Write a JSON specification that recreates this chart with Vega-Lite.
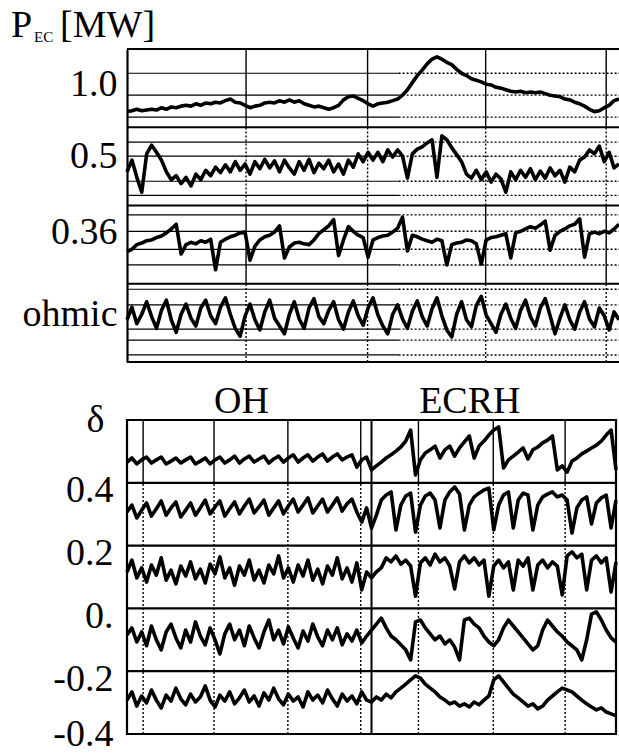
{
  "$schema": "https://vega.github.io/schema/vega-lite/v6.json",
  "autosize": {"type": "pad"},
  "padding": {"left": 10, "top": 7, "right": 0, "bottom": 0},
  "spacing": 16,
  "config": {
    "view": {"stroke": null}
  },
  "datasets": {
    "topLevels": [{"y": 3.69}, {"y": 3.41}, {"y": 3.13}, {"y": 2.81}, {"y": 2.63}, {"y": 2.31}, {"y": 2.13}, {"y": 1.88}, {"y": 1.67}, {"y": 1.44}, {"y": 1.24}, {"y": 0.93}, {"y": 0.73}, {"y": 0.42}, {"y": 0.28}, {"y": 0.09}],
    "topSep": [{"y": 0}, {"y": 1}, {"y": 2}, {"y": 3}, {"y": 4}],
    "topDiv": [{"x": 24.2}, {"x": 48.9}, {"x": 72.9}, {"x": 97.4}],
    "heading": [{"part": "P", "x": -23.6, "y": 4.153, "big": true}, {"part": "EC", "x": -18.9, "y": 4.089, "big": false}, {"part": "[MW]", "x": -13.6, "y": 4.153, "big": true}],
    "botSep": [{"y": 0.4}, {"y": 0.2}, {"y": 0}, {"y": -0.2}],
    "botDiv": [{"x": 3.3}, {"x": 17.8}, {"x": 32.9}, {"x": 47.8}, {"x": 59.6}, {"x": 74.9}, {"x": 89.6}],
    "top": [
      {"s":"1.0","t":0,"v":3.20},{"s":"1.0","t":1,"v":3.21},{"s":"1.0","t":2,"v":3.23},{"s":"1.0","t":3,"v":3.21},{"s":"1.0","t":4,"v":3.22},{"s":"1.0","t":5,"v":3.23},{"s":"1.0","t":6,"v":3.22},{"s":"1.0","t":7,"v":3.25},{"s":"1.0","t":8,"v":3.23},{"s":"1.0","t":9,"v":3.26},
      {"s":"1.0","t":10,"v":3.25},{"s":"1.0","t":11,"v":3.27},{"s":"1.0","t":12,"v":3.28},{"s":"1.0","t":13,"v":3.27},{"s":"1.0","t":14,"v":3.30},{"s":"1.0","t":15,"v":3.28},{"s":"1.0","t":16,"v":3.31},{"s":"1.0","t":17,"v":3.30},{"s":"1.0","t":18,"v":3.32},{"s":"1.0","t":19,"v":3.31},
      {"s":"1.0","t":20,"v":3.34},{"s":"1.0","t":21,"v":3.36},{"s":"1.0","t":22,"v":3.32},{"s":"1.0","t":23,"v":3.31},{"s":"1.0","t":24,"v":3.28},{"s":"1.0","t":25,"v":3.25},{"s":"1.0","t":26,"v":3.27},{"s":"1.0","t":27,"v":3.28},{"s":"1.0","t":28,"v":3.31},{"s":"1.0","t":29,"v":3.32},
      {"s":"1.0","t":30,"v":3.31},{"s":"1.0","t":31,"v":3.34},{"s":"1.0","t":32,"v":3.32},{"s":"1.0","t":33,"v":3.35},{"s":"1.0","t":34,"v":3.32},{"s":"1.0","t":35,"v":3.34},{"s":"1.0","t":36,"v":3.30},{"s":"1.0","t":37,"v":3.28},{"s":"1.0","t":38,"v":3.26},{"s":"1.0","t":39,"v":3.27},
      {"s":"1.0","t":40,"v":3.25},{"s":"1.0","t":41,"v":3.23},{"s":"1.0","t":42,"v":3.25},{"s":"1.0","t":43,"v":3.28},{"s":"1.0","t":44,"v":3.35},{"s":"1.0","t":45,"v":3.39},{"s":"1.0","t":46,"v":3.40},{"s":"1.0","t":47,"v":3.37},{"s":"1.0","t":48,"v":3.34},{"s":"1.0","t":49,"v":3.30},
      {"s":"1.0","t":50,"v":3.27},{"s":"1.0","t":51,"v":3.30},{"s":"1.0","t":52,"v":3.31},{"s":"1.0","t":53,"v":3.32},{"s":"1.0","t":54,"v":3.34},{"s":"1.0","t":55,"v":3.36},{"s":"1.0","t":56,"v":3.41},{"s":"1.0","t":57,"v":3.48},{"s":"1.0","t":58,"v":3.57},{"s":"1.0","t":59,"v":3.66},
      {"s":"1.0","t":60,"v":3.73},{"s":"1.0","t":61,"v":3.81},{"s":"1.0","t":62,"v":3.87},{"s":"1.0","t":63,"v":3.90},{"s":"1.0","t":64,"v":3.87},{"s":"1.0","t":65,"v":3.83},{"s":"1.0","t":66,"v":3.80},{"s":"1.0","t":67,"v":3.74},{"s":"1.0","t":68,"v":3.69},{"s":"1.0","t":69,"v":3.66},
      {"s":"1.0","t":70,"v":3.62},{"s":"1.0","t":71,"v":3.60},{"s":"1.0","t":72,"v":3.58},{"s":"1.0","t":73,"v":3.55},{"s":"1.0","t":74,"v":3.54},{"s":"1.0","t":75,"v":3.51},{"s":"1.0","t":76,"v":3.50},{"s":"1.0","t":77,"v":3.48},{"s":"1.0","t":78,"v":3.46},{"s":"1.0","t":79,"v":3.45},
      {"s":"1.0","t":80,"v":3.46},{"s":"1.0","t":81,"v":3.44},{"s":"1.0","t":82,"v":3.45},{"s":"1.0","t":83,"v":3.44},{"s":"1.0","t":84,"v":3.45},{"s":"1.0","t":85,"v":3.43},{"s":"1.0","t":86,"v":3.41},{"s":"1.0","t":87,"v":3.40},{"s":"1.0","t":88,"v":3.39},{"s":"1.0","t":89,"v":3.36},
      {"s":"1.0","t":90,"v":3.35},{"s":"1.0","t":91,"v":3.32},{"s":"1.0","t":92,"v":3.30},{"s":"1.0","t":93,"v":3.27},{"s":"1.0","t":94,"v":3.23},{"s":"1.0","t":95,"v":3.20},{"s":"1.0","t":96,"v":3.21},{"s":"1.0","t":97,"v":3.25},{"s":"1.0","t":98,"v":3.28},{"s":"1.0","t":99,"v":3.34},{"s":"1.0","t":100,"v":3.36},

      {"s":"0.5","t":0,"v":2.43},{"s":"0.5","t":1,"v":2.58},{"s":"0.5","t":2,"v":2.36},{"s":"0.5","t":3,"v":2.17},{"s":"0.5","t":4,"v":2.66},{"s":"0.5","t":5,"v":2.77},{"s":"0.5","t":6,"v":2.68},{"s":"0.5","t":7,"v":2.58},{"s":"0.5","t":8,"v":2.43},{"s":"0.5","t":9,"v":2.33},
      {"s":"0.5","t":10,"v":2.38},{"s":"0.5","t":11,"v":2.28},{"s":"0.5","t":12,"v":2.36},{"s":"0.5","t":13,"v":2.25},{"s":"0.5","t":14,"v":2.40},{"s":"0.5","t":15,"v":2.33},{"s":"0.5","t":16,"v":2.45},{"s":"0.5","t":17,"v":2.38},{"s":"0.5","t":18,"v":2.49},{"s":"0.5","t":19,"v":2.42},
      {"s":"0.5","t":20,"v":2.52},{"s":"0.5","t":21,"v":2.43},{"s":"0.5","t":22,"v":2.56},{"s":"0.5","t":23,"v":2.45},{"s":"0.5","t":24,"v":2.53},{"s":"0.5","t":25,"v":2.40},{"s":"0.5","t":26,"v":2.56},{"s":"0.5","t":27,"v":2.47},{"s":"0.5","t":28,"v":2.59},{"s":"0.5","t":29,"v":2.48},
      {"s":"0.5","t":30,"v":2.57},{"s":"0.5","t":31,"v":2.43},{"s":"0.5","t":32,"v":2.58},{"s":"0.5","t":33,"v":2.48},{"s":"0.5","t":34,"v":2.40},{"s":"0.5","t":35,"v":2.56},{"s":"0.5","t":36,"v":2.45},{"s":"0.5","t":37,"v":2.59},{"s":"0.5","t":38,"v":2.42},{"s":"0.5","t":39,"v":2.54},
      {"s":"0.5","t":40,"v":2.47},{"s":"0.5","t":41,"v":2.58},{"s":"0.5","t":42,"v":2.43},{"s":"0.5","t":43,"v":2.53},{"s":"0.5","t":44,"v":2.40},{"s":"0.5","t":45,"v":2.58},{"s":"0.5","t":46,"v":2.49},{"s":"0.5","t":47,"v":2.66},{"s":"0.5","t":48,"v":2.56},{"s":"0.5","t":49,"v":2.68},
      {"s":"0.5","t":50,"v":2.58},{"s":"0.5","t":51,"v":2.68},{"s":"0.5","t":52,"v":2.56},{"s":"0.5","t":53,"v":2.71},{"s":"0.5","t":54,"v":2.62},{"s":"0.5","t":55,"v":2.71},{"s":"0.5","t":56,"v":2.63},{"s":"0.5","t":57,"v":2.35},{"s":"0.5","t":58,"v":2.66},{"s":"0.5","t":59,"v":2.72},
      {"s":"0.5","t":60,"v":2.75},{"s":"0.5","t":61,"v":2.80},{"s":"0.5","t":62,"v":2.84},{"s":"0.5","t":63,"v":2.36},{"s":"0.5","t":64,"v":2.89},{"s":"0.5","t":65,"v":2.84},{"s":"0.5","t":66,"v":2.74},{"s":"0.5","t":67,"v":2.65},{"s":"0.5","t":68,"v":2.56},{"s":"0.5","t":69,"v":2.40},
      {"s":"0.5","t":70,"v":2.35},{"s":"0.5","t":71,"v":2.45},{"s":"0.5","t":72,"v":2.33},{"s":"0.5","t":73,"v":2.43},{"s":"0.5","t":74,"v":2.30},{"s":"0.5","t":75,"v":2.40},{"s":"0.5","t":76,"v":2.34},{"s":"0.5","t":77,"v":2.17},{"s":"0.5","t":78,"v":2.43},{"s":"0.5","t":79,"v":2.33},
      {"s":"0.5","t":80,"v":2.45},{"s":"0.5","t":81,"v":2.36},{"s":"0.5","t":82,"v":2.47},{"s":"0.5","t":83,"v":2.33},{"s":"0.5","t":84,"v":2.44},{"s":"0.5","t":85,"v":2.35},{"s":"0.5","t":86,"v":2.48},{"s":"0.5","t":87,"v":2.38},{"s":"0.5","t":88,"v":2.45},{"s":"0.5","t":89,"v":2.30},
      {"s":"0.5","t":90,"v":2.49},{"s":"0.5","t":91,"v":2.43},{"s":"0.5","t":92,"v":2.58},{"s":"0.5","t":93,"v":2.62},{"s":"0.5","t":94,"v":2.71},{"s":"0.5","t":95,"v":2.66},{"s":"0.5","t":96,"v":2.76},{"s":"0.5","t":97,"v":2.56},{"s":"0.5","t":98,"v":2.68},{"s":"0.5","t":99,"v":2.48},{"s":"0.5","t":100,"v":2.53},

      {"s":"0.36","t":0,"v":1.41},{"s":"0.36","t":1,"v":1.44},{"s":"0.36","t":2,"v":1.50},{"s":"0.36","t":3,"v":1.52},{"s":"0.36","t":4,"v":1.55},{"s":"0.36","t":5,"v":1.56},{"s":"0.36","t":6,"v":1.59},{"s":"0.36","t":7,"v":1.61},{"s":"0.36","t":8,"v":1.65},{"s":"0.36","t":9,"v":1.70},
      {"s":"0.36","t":10,"v":1.76},{"s":"0.36","t":11,"v":1.38},{"s":"0.36","t":12,"v":1.50},{"s":"0.36","t":13,"v":1.53},{"s":"0.36","t":14,"v":1.51},{"s":"0.36","t":15,"v":1.55},{"s":"0.36","t":16,"v":1.53},{"s":"0.36","t":17,"v":1.57},{"s":"0.36","t":18,"v":1.18},{"s":"0.36","t":19,"v":1.53},
      {"s":"0.36","t":20,"v":1.57},{"s":"0.36","t":21,"v":1.60},{"s":"0.36","t":22,"v":1.62},{"s":"0.36","t":23,"v":1.65},{"s":"0.36","t":24,"v":1.66},{"s":"0.36","t":25,"v":1.30},{"s":"0.36","t":26,"v":1.48},{"s":"0.36","t":27,"v":1.56},{"s":"0.36","t":28,"v":1.60},{"s":"0.36","t":29,"v":1.62},
      {"s":"0.36","t":30,"v":1.66},{"s":"0.36","t":31,"v":1.74},{"s":"0.36","t":32,"v":1.33},{"s":"0.36","t":33,"v":1.47},{"s":"0.36","t":34,"v":1.52},{"s":"0.36","t":35,"v":1.53},{"s":"0.36","t":36,"v":1.51},{"s":"0.36","t":37,"v":1.50},{"s":"0.36","t":38,"v":1.56},{"s":"0.36","t":39,"v":1.64},
      {"s":"0.36","t":40,"v":1.69},{"s":"0.36","t":41,"v":1.74},{"s":"0.36","t":42,"v":1.82},{"s":"0.36","t":43,"v":1.36},{"s":"0.36","t":44,"v":1.56},{"s":"0.36","t":45,"v":1.73},{"s":"0.36","t":46,"v":1.67},{"s":"0.36","t":47,"v":1.62},{"s":"0.36","t":48,"v":1.59},{"s":"0.36","t":49,"v":1.34},
      {"s":"0.36","t":50,"v":1.56},{"s":"0.36","t":51,"v":1.59},{"s":"0.36","t":52,"v":1.61},{"s":"0.36","t":53,"v":1.62},{"s":"0.36","t":54,"v":1.66},{"s":"0.36","t":55,"v":1.71},{"s":"0.36","t":56,"v":1.85},{"s":"0.36","t":57,"v":1.42},{"s":"0.36","t":58,"v":1.62},{"s":"0.36","t":59,"v":1.60},
      {"s":"0.36","t":60,"v":1.57},{"s":"0.36","t":61,"v":1.55},{"s":"0.36","t":62,"v":1.53},{"s":"0.36","t":63,"v":1.57},{"s":"0.36","t":64,"v":1.55},{"s":"0.36","t":65,"v":1.24},{"s":"0.36","t":66,"v":1.50},{"s":"0.36","t":67,"v":1.52},{"s":"0.36","t":68,"v":1.53},{"s":"0.36","t":69,"v":1.56},
      {"s":"0.36","t":70,"v":1.55},{"s":"0.36","t":71,"v":1.51},{"s":"0.36","t":72,"v":1.25},{"s":"0.36","t":73,"v":1.56},{"s":"0.36","t":74,"v":1.59},{"s":"0.36","t":75,"v":1.60},{"s":"0.36","t":76,"v":1.62},{"s":"0.36","t":77,"v":1.64},{"s":"0.36","t":78,"v":1.33},{"s":"0.36","t":79,"v":1.65},
      {"s":"0.36","t":80,"v":1.67},{"s":"0.36","t":81,"v":1.70},{"s":"0.36","t":82,"v":1.73},{"s":"0.36","t":83,"v":1.71},{"s":"0.36","t":84,"v":1.75},{"s":"0.36","t":85,"v":1.80},{"s":"0.36","t":86,"v":1.43},{"s":"0.36","t":87,"v":1.62},{"s":"0.36","t":88,"v":1.67},{"s":"0.36","t":89,"v":1.70},
      {"s":"0.36","t":90,"v":1.74},{"s":"0.36","t":91,"v":1.76},{"s":"0.36","t":92,"v":1.83},{"s":"0.36","t":93,"v":1.34},{"s":"0.36","t":94,"v":1.64},{"s":"0.36","t":95,"v":1.66},{"s":"0.36","t":96,"v":1.64},{"s":"0.36","t":97,"v":1.67},{"s":"0.36","t":98,"v":1.65},{"s":"0.36","t":99,"v":1.70},{"s":"0.36","t":100,"v":1.76},

      {"s":"ohmic","t":0,"v":0.54},{"s":"ohmic","t":1,"v":0.70},{"s":"ohmic","t":2,"v":0.49},{"s":"ohmic","t":3,"v":0.61},{"s":"ohmic","t":4,"v":0.77},{"s":"ohmic","t":5,"v":0.58},{"s":"ohmic","t":6,"v":0.43},{"s":"ohmic","t":7,"v":0.66},{"s":"ohmic","t":8,"v":0.79},{"s":"ohmic","t":9,"v":0.54},
      {"s":"ohmic","t":10,"v":0.38},{"s":"ohmic","t":11,"v":0.61},{"s":"ohmic","t":12,"v":0.74},{"s":"ohmic","t":13,"v":0.56},{"s":"ohmic","t":14,"v":0.46},{"s":"ohmic","t":15,"v":0.69},{"s":"ohmic","t":16,"v":0.79},{"s":"ohmic","t":17,"v":0.59},{"s":"ohmic","t":18,"v":0.49},{"s":"ohmic","t":19,"v":0.70},
      {"s":"ohmic","t":20,"v":0.82},{"s":"ohmic","t":21,"v":0.61},{"s":"ohmic","t":22,"v":0.43},{"s":"ohmic","t":23,"v":0.33},{"s":"ohmic","t":24,"v":0.59},{"s":"ohmic","t":25,"v":0.74},{"s":"ohmic","t":26,"v":0.54},{"s":"ohmic","t":27,"v":0.41},{"s":"ohmic","t":28,"v":0.64},{"s":"ohmic","t":29,"v":0.79},
      {"s":"ohmic","t":30,"v":0.56},{"s":"ohmic","t":31,"v":0.46},{"s":"ohmic","t":32,"v":0.36},{"s":"ohmic","t":33,"v":0.61},{"s":"ohmic","t":34,"v":0.77},{"s":"ohmic","t":35,"v":0.55},{"s":"ohmic","t":36,"v":0.43},{"s":"ohmic","t":37,"v":0.69},{"s":"ohmic","t":38,"v":0.81},{"s":"ohmic","t":39,"v":0.58},
      {"s":"ohmic","t":40,"v":0.49},{"s":"ohmic","t":41,"v":0.66},{"s":"ohmic","t":42,"v":0.77},{"s":"ohmic","t":43,"v":0.54},{"s":"ohmic","t":44,"v":0.42},{"s":"ohmic","t":45,"v":0.64},{"s":"ohmic","t":46,"v":0.78},{"s":"ohmic","t":47,"v":0.59},{"s":"ohmic","t":48,"v":0.47},{"s":"ohmic","t":49,"v":0.69},
      {"s":"ohmic","t":50,"v":0.82},{"s":"ohmic","t":51,"v":0.60},{"s":"ohmic","t":52,"v":0.46},{"s":"ohmic","t":53,"v":0.36},{"s":"ohmic","t":54,"v":0.61},{"s":"ohmic","t":55,"v":0.73},{"s":"ohmic","t":56,"v":0.55},{"s":"ohmic","t":57,"v":0.43},{"s":"ohmic","t":58,"v":0.65},{"s":"ohmic","t":59,"v":0.78},
      {"s":"ohmic","t":60,"v":0.58},{"s":"ohmic","t":61,"v":0.46},{"s":"ohmic","t":62,"v":0.68},{"s":"ohmic","t":63,"v":0.82},{"s":"ohmic","t":64,"v":0.59},{"s":"ohmic","t":65,"v":0.41},{"s":"ohmic","t":66,"v":0.32},{"s":"ohmic","t":67,"v":0.61},{"s":"ohmic","t":68,"v":0.77},{"s":"ohmic","t":69,"v":0.54},
      {"s":"ohmic","t":70,"v":0.45},{"s":"ohmic","t":71,"v":0.72},{"s":"ohmic","t":72,"v":0.84},{"s":"ohmic","t":73,"v":0.60},{"s":"ohmic","t":74,"v":0.49},{"s":"ohmic","t":75,"v":0.38},{"s":"ohmic","t":76,"v":0.61},{"s":"ohmic","t":77,"v":0.74},{"s":"ohmic","t":78,"v":0.56},{"s":"ohmic","t":79,"v":0.43},
      {"s":"ohmic","t":80,"v":0.66},{"s":"ohmic","t":81,"v":0.79},{"s":"ohmic","t":82,"v":0.58},{"s":"ohmic","t":83,"v":0.46},{"s":"ohmic","t":84,"v":0.69},{"s":"ohmic","t":85,"v":0.81},{"s":"ohmic","t":86,"v":0.59},{"s":"ohmic","t":87,"v":0.36},{"s":"ohmic","t":88,"v":0.56},{"s":"ohmic","t":89,"v":0.73},
      {"s":"ohmic","t":90,"v":0.54},{"s":"ohmic","t":91,"v":0.42},{"s":"ohmic","t":92,"v":0.64},{"s":"ohmic","t":93,"v":0.77},{"s":"ohmic","t":94,"v":0.55},{"s":"ohmic","t":95,"v":0.45},{"s":"ohmic","t":96,"v":0.69},{"s":"ohmic","t":97,"v":0.59},{"s":"ohmic","t":98,"v":0.41},{"s":"ohmic","t":99,"v":0.64},{"s":"ohmic","t":100,"v":0.54}
    ],
    "bottom": [
      {"s":"c1","t":0,"v":0.466},{"s":"c1","t":1,"v":0.479},{"s":"c1","t":2,"v":0.460},{"s":"c1","t":3,"v":0.473},{"s":"c1","t":4,"v":0.482},{"s":"c1","t":5,"v":0.463},{"s":"c1","t":6,"v":0.473},{"s":"c1","t":7,"v":0.482},{"s":"c1","t":8,"v":0.460},{"s":"c1","t":9,"v":0.469},
      {"s":"c1","t":10,"v":0.479},{"s":"c1","t":11,"v":0.463},{"s":"c1","t":12,"v":0.473},{"s":"c1","t":13,"v":0.482},{"s":"c1","t":14,"v":0.460},{"s":"c1","t":15,"v":0.469},{"s":"c1","t":16,"v":0.479},{"s":"c1","t":17,"v":0.460},{"s":"c1","t":18,"v":0.473},{"s":"c1","t":19,"v":0.482},
      {"s":"c1","t":20,"v":0.463},{"s":"c1","t":21,"v":0.473},{"s":"c1","t":22,"v":0.485},{"s":"c1","t":23,"v":0.463},{"s":"c1","t":24,"v":0.476},{"s":"c1","t":25,"v":0.485},{"s":"c1","t":26,"v":0.466},{"s":"c1","t":27,"v":0.476},{"s":"c1","t":28,"v":0.485},{"s":"c1","t":29,"v":0.463},
      {"s":"c1","t":30,"v":0.476},{"s":"c1","t":31,"v":0.485},{"s":"c1","t":32,"v":0.466},{"s":"c1","t":33,"v":0.479},{"s":"c1","t":34,"v":0.489},{"s":"c1","t":35,"v":0.466},{"s":"c1","t":36,"v":0.479},{"s":"c1","t":37,"v":0.489},{"s":"c1","t":38,"v":0.469},{"s":"c1","t":39,"v":0.482},
      {"s":"c1","t":40,"v":0.492},{"s":"c1","t":41,"v":0.469},{"s":"c1","t":42,"v":0.482},{"s":"c1","t":43,"v":0.492},{"s":"c1","t":44,"v":0.473},{"s":"c1","t":45,"v":0.482},{"s":"c1","t":46,"v":0.489},{"s":"c1","t":47,"v":0.450},{"s":"c1","t":48,"v":0.473},{"s":"c1","t":49,"v":0.482},
      {"s":"c1","t":50,"v":0.441},{"s":"c1","t":51,"v":0.454},{"s":"c1","t":52,"v":0.466},{"s":"c1","t":53,"v":0.479},{"s":"c1","t":54,"v":0.489},{"s":"c1","t":55,"v":0.501},{"s":"c1","t":56,"v":0.514},{"s":"c1","t":57,"v":0.533},{"s":"c1","t":58,"v":0.568},{"s":"c1","t":59,"v":0.425},
      {"s":"c1","t":60,"v":0.473},{"s":"c1","t":61,"v":0.495},{"s":"c1","t":62,"v":0.505},{"s":"c1","t":63,"v":0.517},{"s":"c1","t":64,"v":0.479},{"s":"c1","t":65,"v":0.505},{"s":"c1","t":66,"v":0.517},{"s":"c1","t":67,"v":0.485},{"s":"c1","t":68,"v":0.511},{"s":"c1","t":69,"v":0.530},
      {"s":"c1","t":70,"v":0.549},{"s":"c1","t":71,"v":0.479},{"s":"c1","t":72,"v":0.517},{"s":"c1","t":73,"v":0.533},{"s":"c1","t":74,"v":0.552},{"s":"c1","t":75,"v":0.568},{"s":"c1","t":76,"v":0.578},{"s":"c1","t":77,"v":0.447},{"s":"c1","t":78,"v":0.473},{"s":"c1","t":79,"v":0.485},
      {"s":"c1","t":80,"v":0.498},{"s":"c1","t":81,"v":0.511},{"s":"c1","t":82,"v":0.476},{"s":"c1","t":83,"v":0.505},{"s":"c1","t":84,"v":0.514},{"s":"c1","t":85,"v":0.527},{"s":"c1","t":86,"v":0.536},{"s":"c1","t":87,"v":0.549},{"s":"c1","t":88,"v":0.441},{"s":"c1","t":89,"v":0.454},
      {"s":"c1","t":90,"v":0.434},{"s":"c1","t":91,"v":0.469},{"s":"c1","t":92,"v":0.479},{"s":"c1","t":93,"v":0.492},{"s":"c1","t":94,"v":0.501},{"s":"c1","t":95,"v":0.511},{"s":"c1","t":96,"v":0.520},{"s":"c1","t":97,"v":0.533},{"s":"c1","t":98,"v":0.552},{"s":"c1","t":99,"v":0.568},{"s":"c1","t":100,"v":0.441},

      {"s":"c2","t":0,"v":0.307},{"s":"c2","t":1,"v":0.329},{"s":"c2","t":2,"v":0.288},{"s":"c2","t":3,"v":0.313},{"s":"c2","t":4,"v":0.336},{"s":"c2","t":5,"v":0.294},{"s":"c2","t":6,"v":0.317},{"s":"c2","t":7,"v":0.342},{"s":"c2","t":8,"v":0.297},{"s":"c2","t":9,"v":0.320},
      {"s":"c2","t":10,"v":0.339},{"s":"c2","t":11,"v":0.291},{"s":"c2","t":12,"v":0.313},{"s":"c2","t":13,"v":0.336},{"s":"c2","t":14,"v":0.297},{"s":"c2","t":15,"v":0.320},{"s":"c2","t":16,"v":0.345},{"s":"c2","t":17,"v":0.301},{"s":"c2","t":18,"v":0.323},{"s":"c2","t":19,"v":0.342},
      {"s":"c2","t":20,"v":0.294},{"s":"c2","t":21,"v":0.317},{"s":"c2","t":22,"v":0.339},{"s":"c2","t":23,"v":0.301},{"s":"c2","t":24,"v":0.326},{"s":"c2","t":25,"v":0.348},{"s":"c2","t":26,"v":0.304},{"s":"c2","t":27,"v":0.323},{"s":"c2","t":28,"v":0.345},{"s":"c2","t":29,"v":0.297},
      {"s":"c2","t":30,"v":0.320},{"s":"c2","t":31,"v":0.342},{"s":"c2","t":32,"v":0.301},{"s":"c2","t":33,"v":0.326},{"s":"c2","t":34,"v":0.348},{"s":"c2","t":35,"v":0.307},{"s":"c2","t":36,"v":0.329},{"s":"c2","t":37,"v":0.352},{"s":"c2","t":38,"v":0.304},{"s":"c2","t":39,"v":0.326},
      {"s":"c2","t":40,"v":0.348},{"s":"c2","t":41,"v":0.307},{"s":"c2","t":42,"v":0.329},{"s":"c2","t":43,"v":0.352},{"s":"c2","t":44,"v":0.310},{"s":"c2","t":45,"v":0.333},{"s":"c2","t":46,"v":0.348},{"s":"c2","t":47,"v":0.307},{"s":"c2","t":48,"v":0.275},{"s":"c2","t":49,"v":0.320},
      {"s":"c2","t":50,"v":0.256},{"s":"c2","t":51,"v":0.297},{"s":"c2","t":52,"v":0.345},{"s":"c2","t":53,"v":0.361},{"s":"c2","t":54,"v":0.371},{"s":"c2","t":55,"v":0.250},{"s":"c2","t":56,"v":0.329},{"s":"c2","t":57,"v":0.358},{"s":"c2","t":58,"v":0.367},{"s":"c2","t":59,"v":0.243},
      {"s":"c2","t":60,"v":0.329},{"s":"c2","t":61,"v":0.358},{"s":"c2","t":62,"v":0.367},{"s":"c2","t":63,"v":0.345},{"s":"c2","t":64,"v":0.256},{"s":"c2","t":65,"v":0.345},{"s":"c2","t":66,"v":0.371},{"s":"c2","t":67,"v":0.387},{"s":"c2","t":68,"v":0.364},{"s":"c2","t":69,"v":0.250},
      {"s":"c2","t":70,"v":0.329},{"s":"c2","t":71,"v":0.355},{"s":"c2","t":72,"v":0.367},{"s":"c2","t":73,"v":0.377},{"s":"c2","t":74,"v":0.383},{"s":"c2","t":75,"v":0.250},{"s":"c2","t":76,"v":0.329},{"s":"c2","t":77,"v":0.361},{"s":"c2","t":78,"v":0.371},{"s":"c2","t":79,"v":0.256},
      {"s":"c2","t":80,"v":0.345},{"s":"c2","t":81,"v":0.367},{"s":"c2","t":82,"v":0.361},{"s":"c2","t":83,"v":0.250},{"s":"c2","t":84,"v":0.329},{"s":"c2","t":85,"v":0.355},{"s":"c2","t":86,"v":0.364},{"s":"c2","t":87,"v":0.371},{"s":"c2","t":88,"v":0.355},{"s":"c2","t":89,"v":0.361},
      {"s":"c2","t":90,"v":0.345},{"s":"c2","t":91,"v":0.240},{"s":"c2","t":92,"v":0.320},{"s":"c2","t":93,"v":0.345},{"s":"c2","t":94,"v":0.355},{"s":"c2","t":95,"v":0.269},{"s":"c2","t":96,"v":0.336},{"s":"c2","t":97,"v":0.352},{"s":"c2","t":98,"v":0.361},{"s":"c2","t":99,"v":0.256},{"s":"c2","t":100,"v":0.345},

      {"s":"c3","t":0,"v":0.116},{"s":"c3","t":1,"v":0.154},{"s":"c3","t":2,"v":0.097},{"s":"c3","t":3,"v":0.129},{"s":"c3","t":4,"v":0.084},{"s":"c3","t":5,"v":0.138},{"s":"c3","t":6,"v":0.106},{"s":"c3","t":7,"v":0.161},{"s":"c3","t":8,"v":0.090},{"s":"c3","t":9,"v":0.122},
      {"s":"c3","t":10,"v":0.078},{"s":"c3","t":11,"v":0.135},{"s":"c3","t":12,"v":0.103},{"s":"c3","t":13,"v":0.148},{"s":"c3","t":14,"v":0.094},{"s":"c3","t":15,"v":0.125},{"s":"c3","t":16,"v":0.081},{"s":"c3","t":17,"v":0.141},{"s":"c3","t":18,"v":0.110},{"s":"c3","t":19,"v":0.164},
      {"s":"c3","t":20,"v":0.097},{"s":"c3","t":21,"v":0.129},{"s":"c3","t":22,"v":0.074},{"s":"c3","t":23,"v":0.135},{"s":"c3","t":24,"v":0.106},{"s":"c3","t":25,"v":0.154},{"s":"c3","t":26,"v":0.090},{"s":"c3","t":27,"v":0.122},{"s":"c3","t":28,"v":0.081},{"s":"c3","t":29,"v":0.138},
      {"s":"c3","t":30,"v":0.110},{"s":"c3","t":31,"v":0.167},{"s":"c3","t":32,"v":0.097},{"s":"c3","t":33,"v":0.129},{"s":"c3","t":34,"v":0.084},{"s":"c3","t":35,"v":0.138},{"s":"c3","t":36,"v":0.103},{"s":"c3","t":37,"v":0.154},{"s":"c3","t":38,"v":0.090},{"s":"c3","t":39,"v":0.125},
      {"s":"c3","t":40,"v":0.078},{"s":"c3","t":41,"v":0.135},{"s":"c3","t":42,"v":0.106},{"s":"c3","t":43,"v":0.161},{"s":"c3","t":44,"v":0.094},{"s":"c3","t":45,"v":0.129},{"s":"c3","t":46,"v":0.084},{"s":"c3","t":47,"v":0.145},{"s":"c3","t":48,"v":0.059},{"s":"c3","t":49,"v":0.116},
      {"s":"c3","t":50,"v":0.097},{"s":"c3","t":51,"v":0.116},{"s":"c3","t":52,"v":0.129},{"s":"c3","t":53,"v":0.161},{"s":"c3","t":54,"v":0.148},{"s":"c3","t":55,"v":0.167},{"s":"c3","t":56,"v":0.141},{"s":"c3","t":57,"v":0.154},{"s":"c3","t":58,"v":0.135},{"s":"c3","t":59,"v":0.039},
      {"s":"c3","t":60,"v":0.145},{"s":"c3","t":61,"v":0.161},{"s":"c3","t":62,"v":0.138},{"s":"c3","t":63,"v":0.173},{"s":"c3","t":64,"v":0.148},{"s":"c3","t":65,"v":0.161},{"s":"c3","t":66,"v":0.135},{"s":"c3","t":67,"v":0.062},{"s":"c3","t":68,"v":0.148},{"s":"c3","t":69,"v":0.167},
      {"s":"c3","t":70,"v":0.145},{"s":"c3","t":71,"v":0.161},{"s":"c3","t":72,"v":0.138},{"s":"c3","t":73,"v":0.154},{"s":"c3","t":74,"v":0.039},{"s":"c3","t":75,"v":0.135},{"s":"c3","t":76,"v":0.154},{"s":"c3","t":77,"v":0.129},{"s":"c3","t":78,"v":0.148},{"s":"c3","t":79,"v":0.059},
      {"s":"c3","t":80,"v":0.154},{"s":"c3","t":81,"v":0.135},{"s":"c3","t":82,"v":0.161},{"s":"c3","t":83,"v":0.059},{"s":"c3","t":84,"v":0.138},{"s":"c3","t":85,"v":0.154},{"s":"c3","t":86,"v":0.129},{"s":"c3","t":87,"v":0.148},{"s":"c3","t":88,"v":0.135},{"s":"c3","t":89,"v":0.043},
      {"s":"c3","t":90,"v":0.167},{"s":"c3","t":91,"v":0.180},{"s":"c3","t":92,"v":0.161},{"s":"c3","t":93,"v":0.173},{"s":"c3","t":94,"v":0.059},{"s":"c3","t":95,"v":0.154},{"s":"c3","t":96,"v":0.167},{"s":"c3","t":97,"v":0.145},{"s":"c3","t":98,"v":0.161},{"s":"c3","t":99,"v":0.052},{"s":"c3","t":100,"v":0.148},

      {"s":"c4","t":0,"v":-0.085},{"s":"c4","t":1,"v":-0.062},{"s":"c4","t":2,"v":-0.107},{"s":"c4","t":3,"v":-0.075},{"s":"c4","t":4,"v":-0.119},{"s":"c4","t":5,"v":-0.056},{"s":"c4","t":6,"v":-0.100},{"s":"c4","t":7,"v":-0.132},{"s":"c4","t":8,"v":-0.075},{"s":"c4","t":9,"v":-0.050},
      {"s":"c4","t":10,"v":-0.094},{"s":"c4","t":11,"v":-0.126},{"s":"c4","t":12,"v":-0.069},{"s":"c4","t":13,"v":-0.107},{"s":"c4","t":14,"v":-0.043},{"s":"c4","t":15,"v":-0.088},{"s":"c4","t":16,"v":-0.116},{"s":"c4","t":17,"v":-0.062},{"s":"c4","t":18,"v":-0.100},{"s":"c4","t":19,"v":-0.145},
      {"s":"c4","t":20,"v":-0.081},{"s":"c4","t":21,"v":-0.050},{"s":"c4","t":22,"v":-0.100},{"s":"c4","t":23,"v":-0.069},{"s":"c4","t":24,"v":-0.119},{"s":"c4","t":25,"v":-0.056},{"s":"c4","t":26,"v":-0.094},{"s":"c4","t":27,"v":-0.126},{"s":"c4","t":28,"v":-0.075},{"s":"c4","t":29,"v":-0.037},
      {"s":"c4","t":30,"v":-0.100},{"s":"c4","t":31,"v":-0.069},{"s":"c4","t":32,"v":-0.113},{"s":"c4","t":33,"v":-0.059},{"s":"c4","t":34,"v":-0.094},{"s":"c4","t":35,"v":-0.126},{"s":"c4","t":36,"v":-0.072},{"s":"c4","t":37,"v":-0.104},{"s":"c4","t":38,"v":-0.050},{"s":"c4","t":39,"v":-0.091},
      {"s":"c4","t":40,"v":-0.119},{"s":"c4","t":41,"v":-0.069},{"s":"c4","t":42,"v":-0.100},{"s":"c4","t":43,"v":-0.062},{"s":"c4","t":44,"v":-0.116},{"s":"c4","t":45,"v":-0.081},{"s":"c4","t":46,"v":-0.104},{"s":"c4","t":47,"v":-0.069},{"s":"c4","t":48,"v":-0.110},{"s":"c4","t":49,"v":-0.088},
      {"s":"c4","t":50,"v":-0.069},{"s":"c4","t":51,"v":-0.050},{"s":"c4","t":52,"v":-0.031},{"s":"c4","t":53,"v":-0.062},{"s":"c4","t":54,"v":-0.088},{"s":"c4","t":55,"v":-0.100},{"s":"c4","t":56,"v":-0.116},{"s":"c4","t":57,"v":-0.132},{"s":"c4","t":58,"v":-0.164},{"s":"c4","t":59,"v":-0.043},
      {"s":"c4","t":60,"v":-0.037},{"s":"c4","t":61,"v":-0.062},{"s":"c4","t":62,"v":-0.081},{"s":"c4","t":63,"v":-0.100},{"s":"c4","t":64,"v":-0.088},{"s":"c4","t":65,"v":-0.113},{"s":"c4","t":66,"v":-0.100},{"s":"c4","t":67,"v":-0.123},{"s":"c4","t":68,"v":-0.164},{"s":"c4","t":69,"v":-0.037},
      {"s":"c4","t":70,"v":-0.031},{"s":"c4","t":71,"v":-0.050},{"s":"c4","t":72,"v":-0.062},{"s":"c4","t":73,"v":-0.088},{"s":"c4","t":74,"v":-0.107},{"s":"c4","t":75,"v":-0.119},{"s":"c4","t":76,"v":-0.100},{"s":"c4","t":77,"v":-0.062},{"s":"c4","t":78,"v":-0.037},{"s":"c4","t":79,"v":-0.056},
      {"s":"c4","t":80,"v":-0.075},{"s":"c4","t":81,"v":-0.094},{"s":"c4","t":82,"v":-0.113},{"s":"c4","t":83,"v":-0.132},{"s":"c4","t":84,"v":-0.119},{"s":"c4","t":85,"v":-0.069},{"s":"c4","t":86,"v":-0.037},{"s":"c4","t":87,"v":-0.056},{"s":"c4","t":88,"v":-0.075},{"s":"c4","t":89,"v":-0.088},
      {"s":"c4","t":90,"v":-0.107},{"s":"c4","t":91,"v":-0.119},{"s":"c4","t":92,"v":-0.132},{"s":"c4","t":93,"v":-0.164},{"s":"c4","t":94,"v":-0.100},{"s":"c4","t":95,"v":-0.018},{"s":"c4","t":96,"v":-0.011},{"s":"c4","t":97,"v":-0.037},{"s":"c4","t":98,"v":-0.069},{"s":"c4","t":99,"v":-0.094},{"s":"c4","t":100,"v":-0.107},

      {"s":"c5","t":0,"v":-0.292},{"s":"c5","t":1,"v":-0.266},{"s":"c5","t":2,"v":-0.311},{"s":"c5","t":3,"v":-0.279},{"s":"c5","t":4,"v":-0.301},{"s":"c5","t":5,"v":-0.260},{"s":"c5","t":6,"v":-0.292},{"s":"c5","t":7,"v":-0.317},{"s":"c5","t":8,"v":-0.276},{"s":"c5","t":9,"v":-0.295},
      {"s":"c5","t":10,"v":-0.254},{"s":"c5","t":11,"v":-0.288},{"s":"c5","t":12,"v":-0.307},{"s":"c5","t":13,"v":-0.273},{"s":"c5","t":14,"v":-0.298},{"s":"c5","t":15,"v":-0.282},{"s":"c5","t":16,"v":-0.247},{"s":"c5","t":17,"v":-0.292},{"s":"c5","t":18,"v":-0.314},{"s":"c5","t":19,"v":-0.276},
      {"s":"c5","t":20,"v":-0.295},{"s":"c5","t":21,"v":-0.266},{"s":"c5","t":22,"v":-0.304},{"s":"c5","t":23,"v":-0.285},{"s":"c5","t":24,"v":-0.260},{"s":"c5","t":25,"v":-0.298},{"s":"c5","t":26,"v":-0.279},{"s":"c5","t":27,"v":-0.311},{"s":"c5","t":28,"v":-0.269},{"s":"c5","t":29,"v":-0.292},
      {"s":"c5","t":30,"v":-0.254},{"s":"c5","t":31,"v":-0.288},{"s":"c5","t":32,"v":-0.307},{"s":"c5","t":33,"v":-0.273},{"s":"c5","t":34,"v":-0.295},{"s":"c5","t":35,"v":-0.282},{"s":"c5","t":36,"v":-0.314},{"s":"c5","t":37,"v":-0.266},{"s":"c5","t":38,"v":-0.292},{"s":"c5","t":39,"v":-0.276},
      {"s":"c5","t":40,"v":-0.301},{"s":"c5","t":41,"v":-0.260},{"s":"c5","t":42,"v":-0.288},{"s":"c5","t":43,"v":-0.311},{"s":"c5","t":44,"v":-0.273},{"s":"c5","t":45,"v":-0.295},{"s":"c5","t":46,"v":-0.279},{"s":"c5","t":47,"v":-0.304},{"s":"c5","t":48,"v":-0.266},{"s":"c5","t":49,"v":-0.292},
      {"s":"c5","t":50,"v":-0.298},{"s":"c5","t":51,"v":-0.282},{"s":"c5","t":52,"v":-0.292},{"s":"c5","t":53,"v":-0.273},{"s":"c5","t":54,"v":-0.285},{"s":"c5","t":55,"v":-0.266},{"s":"c5","t":56,"v":-0.254},{"s":"c5","t":57,"v":-0.241},{"s":"c5","t":58,"v":-0.228},{"s":"c5","t":59,"v":-0.215},
      {"s":"c5","t":60,"v":-0.222},{"s":"c5","t":61,"v":-0.241},{"s":"c5","t":62,"v":-0.254},{"s":"c5","t":63,"v":-0.266},{"s":"c5","t":64,"v":-0.282},{"s":"c5","t":65,"v":-0.292},{"s":"c5","t":66,"v":-0.304},{"s":"c5","t":67,"v":-0.298},{"s":"c5","t":68,"v":-0.311},{"s":"c5","t":69,"v":-0.304},
      {"s":"c5","t":70,"v":-0.314},{"s":"c5","t":71,"v":-0.298},{"s":"c5","t":72,"v":-0.307},{"s":"c5","t":73,"v":-0.292},{"s":"c5","t":74,"v":-0.279},{"s":"c5","t":75,"v":-0.228},{"s":"c5","t":76,"v":-0.215},{"s":"c5","t":77,"v":-0.234},{"s":"c5","t":78,"v":-0.254},{"s":"c5","t":79,"v":-0.273},
      {"s":"c5","t":80,"v":-0.285},{"s":"c5","t":81,"v":-0.298},{"s":"c5","t":82,"v":-0.311},{"s":"c5","t":83,"v":-0.304},{"s":"c5","t":84,"v":-0.320},{"s":"c5","t":85,"v":-0.311},{"s":"c5","t":86,"v":-0.292},{"s":"c5","t":87,"v":-0.279},{"s":"c5","t":88,"v":-0.266},{"s":"c5","t":89,"v":-0.254},
      {"s":"c5","t":90,"v":-0.260},{"s":"c5","t":91,"v":-0.266},{"s":"c5","t":92,"v":-0.279},{"s":"c5","t":93,"v":-0.292},{"s":"c5","t":94,"v":-0.304},{"s":"c5","t":95,"v":-0.314},{"s":"c5","t":96,"v":-0.323},{"s":"c5","t":97,"v":-0.317},{"s":"c5","t":98,"v":-0.330},{"s":"c5","t":99,"v":-0.336},{"s":"c5","t":100,"v":-0.342}
    ]
  },
  "vconcat": [
    {
      "width": 492,
      "height": 313,
      "encoding": {
        "y": {
          "type": "quantitative",
          "scale": {"domain": [0, 4]},
          "axis": {
            "title": null,
            "values": [3.55, 2.62, 1.66, 0.61],
            "labelExpr": "datum.value > 3 ? '1.0' : datum.value > 2 ? '0.5' : datum.value > 1 ? '0.36' : 'ohmic'",
            "labelFont": "Liberation Serif",
            "labelFontSize": 38,
            "labelColor": "black",
            "labelPadding": 10,
            "labelFlush": false,
            "labelOverlap": false,
            "ticks": false,
            "grid": false,
            "domain": true,
            "domainColor": "black",
            "domainWidth": 2.2
          }
        }
      },
      "layer": [
        {
          "data": {"name": "topLevels"},
          "mark": {"type": "rule", "color": "black", "strokeWidth": 1.2},
          "encoding": {
            "y": {"field": "y", "type": "quantitative"},
            "x": {"datum": 0, "type": "quantitative", "scale": {"domain": [0, 100]}, "axis": null},
            "x2": {"datum": 55.2}
          }
        },
        {
          "data": {"name": "topLevels"},
          "mark": {"type": "rule", "color": "black", "strokeWidth": 1.4, "strokeDash": [2, 2]},
          "encoding": {
            "y": {"field": "y", "type": "quantitative"},
            "x": {"datum": 55.2, "type": "quantitative", "axis": null},
            "x2": {"datum": 100}
          }
        },
        {
          "data": {"name": "topSep"},
          "mark": {"type": "rule", "color": "black", "strokeWidth": 2.2},
          "encoding": {
            "y": {"field": "y", "type": "quantitative"},
            "x": {"datum": 0, "type": "quantitative", "axis": null},
            "x2": {"datum": 100}
          }
        },
        {
          "data": {"name": "topDiv"},
          "mark": {"type": "rule", "color": "black", "strokeWidth": 1.4},
          "encoding": {
            "x": {"field": "x", "type": "quantitative", "axis": null},
            "y": {"datum": 3, "type": "quantitative"},
            "y2": {"datum": 4}
          }
        },
        {
          "data": {"name": "topDiv"},
          "mark": {"type": "rule", "color": "black", "strokeWidth": 1.4},
          "encoding": {
            "x": {"field": "x", "type": "quantitative", "axis": null},
            "y": {"datum": 1, "type": "quantitative"},
            "y2": {"datum": 2}
          }
        },
        {
          "data": {"name": "topDiv"},
          "mark": {"type": "rule", "color": "black", "strokeWidth": 1.4, "strokeDash": [2, 2]},
          "encoding": {
            "x": {"field": "x", "type": "quantitative", "axis": null},
            "y": {"datum": 2, "type": "quantitative"},
            "y2": {"datum": 3}
          }
        },
        {
          "data": {"name": "topDiv"},
          "mark": {"type": "rule", "color": "black", "strokeWidth": 1.4, "strokeDash": [2, 2]},
          "encoding": {
            "x": {"field": "x", "type": "quantitative", "axis": null},
            "y": {"datum": 0, "type": "quantitative"},
            "y2": {"datum": 1}
          }
        },
        {
          "data": {"name": "top"},
          "mark": {"type": "line", "color": "black", "strokeWidth": 3.6, "strokeJoin": "round"},
          "encoding": {
            "x": {"field": "t", "type": "quantitative", "axis": null},
            "y": {"field": "v", "type": "quantitative"},
            "detail": {"field": "s"}
          }
        },
        {
          "data": {"name": "heading"},
          "mark": {"type": "text", "font": "Liberation Serif", "align": "left", "baseline": "alphabetic", "color": "black"},
          "encoding": {
            "x": {"field": "x", "type": "quantitative", "axis": null},
            "y": {"field": "y", "type": "quantitative"},
            "text": {"field": "part"},
            "size": {"field": "big", "type": "nominal", "scale": {"domain": [true, false], "range": [38, 15]}, "legend": null}
          }
        }
      ]
    },
    {
      "width": 489,
      "height": 314,
      "view": {"stroke": "black", "strokeWidth": 2.2},
      "encoding": {
        "y": {
          "type": "quantitative",
          "scale": {"domain": [-0.4, 0.6]},
          "axis": {
            "title": "δ",
            "titleFont": "Liberation Serif",
            "titleColor": "black",
            "titleAngle": 0,
            "titleFontSize": 38,
            "titleFontWeight": "normal",
            "titleAlign": "center",
            "titleBaseline": "middle",
            "titleX": -32,
            "titleY": 0,
            "values": [-0.4, -0.2, 0, 0.2, 0.4],
            "labelExpr": "datum.value < -0.3 ? '-0.4' : datum.value < -0.1 ? '-0.2' : datum.value < 0.1 ? '0.' : datum.value < 0.3 ? '0.2' : '0.4'",
            "labelFont": "Liberation Serif",
            "labelFontSize": 38,
            "labelColor": "black",
            "labelPadding": 14,
            "labelOffset": {"condition": {"test": "datum.value < -0.3", "value": 0}, "value": 8},
            "labelFlush": false,
            "labelOverlap": false,
            "ticks": false,
            "grid": false,
            "domain": false
          }
        },
        "x": {
          "type": "quantitative",
          "scale": {"domain": [0, 100]},
          "axis": {
            "orient": "top",
            "title": null,
            "values": [23.3, 70],
            "labelExpr": "datum.value < 50 ? 'OH' : 'ECRH'",
            "labelFont": "Liberation Serif",
            "labelFontSize": 38,
            "labelColor": "black",
            "labelPadding": 0,
            "labelFlush": false,
            "labelOverlap": false,
            "ticks": false,
            "grid": false,
            "domain": false
          }
        }
      },
      "layer": [
        {
          "data": {"name": "botSep"},
          "mark": {"type": "rule", "color": "black", "strokeWidth": 2.2},
          "encoding": {
            "y": {"field": "y"},
            "x": {"datum": 0},
            "x2": {"datum": 100}
          }
        },
        {
          "data": {"name": "botDiv"},
          "mark": {"type": "rule", "color": "black", "strokeWidth": 1.4},
          "encoding": {
            "x": {"field": "x"},
            "y": {"datum": 0.4},
            "y2": {"datum": 0.6}
          }
        },
        {
          "data": {"name": "botDiv"},
          "mark": {"type": "rule", "color": "black", "strokeWidth": 1.4, "strokeDash": [2, 2]},
          "encoding": {
            "x": {"field": "x"},
            "y": {"datum": -0.4},
            "y2": {"datum": 0.4}
          }
        },
        {
          "data": {"name": "bottom"},
          "mark": {"type": "line", "color": "black", "strokeWidth": 3.6, "strokeJoin": "round"},
          "encoding": {
            "x": {"field": "t"},
            "y": {"field": "v"},
            "detail": {"field": "s"}
          }
        },
        {
          "data": {"values": [{"seam": 50}]},
          "mark": {"type": "rule", "color": "black", "strokeWidth": 2},
          "encoding": {
            "x": {"field": "seam"},
            "y": {"datum": -0.4},
            "y2": {"datum": 0.6}
          }
        }
      ]
    }
  ]
}
